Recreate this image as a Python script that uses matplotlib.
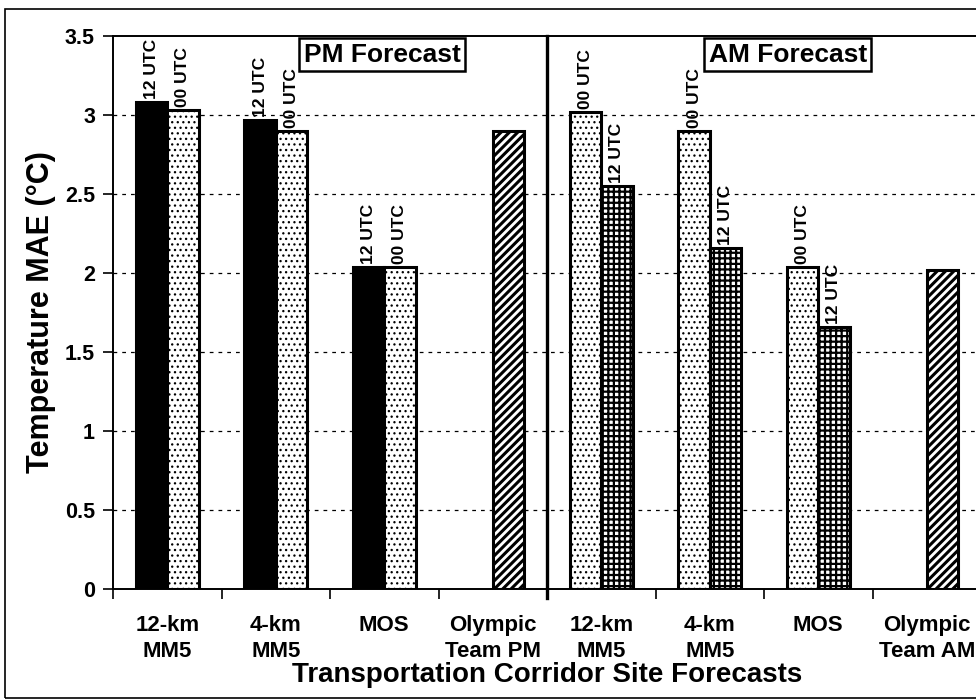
import matplotlib
matplotlib.use("Agg")
import matplotlib.pyplot as plt
import matplotlib.patches as mpatches
import numpy as np

# ---------------- data ----------------
categories = ["12-km\nMM5", "4-km\nMM5", "MOS", "Olympic\nTeam PM",
              "12-km\nMM5", "4-km\nMM5", "MOS", "Olympic\nTeam AM"]
pm_12utc = [3.08, 2.97, 2.04]          # black bars, PM models
pm_00utc = [3.03, 2.90, 2.04]          # dotted bars, PM models
olympic_pm = [2.90]
am_00utc = [3.02, 2.90, 2.04]          # dotted bars, AM models
am_12utc = [2.55, 2.16, 1.66]          # brick bars, AM models
olympic_am = [2.02]
yticks = [0, 0.5, 1, 1.5, 2, 2.5, 3, 3.5]
ytick_labels = ["0", "0.5", "1", "1.5", "2", "2.5", "3", "3.5"]

plt.rcParams['font.family'] = ["Liberation Sans", "DejaVu Sans"]
plt.rcParams['font.weight'] = 'bold'

fig = plt.figure(figsize=(9.76, 7.0), dpi=100)
ax = fig.add_axes([113/976, 1-589/700, (981-113)/976, (589-36)/700])

w = 0.29
off = 0.145
x = np.arange(len(categories))


def hbar(xpos, vals, color, hatch, hlw):
    plt.rcParams['hatch.linewidth'] = hlw
    bars = ax.bar(xpos, vals, w, color=color, hatch=hatch, edgecolor="black",
                  linewidth=2.2, zorder=3)
    for r in bars:
        if hasattr(r, "set_hatch_linewidth"):
            r.set_hatch_linewidth(hlw)
    return bars


# PM section
b1 = hbar(x[:3]-off, pm_12utc, "black", None, 1.0)
b2 = hbar(x[:3]+off, pm_00utc, "white", "...", 0.9)
b3 = hbar(x[3:4]+off, olympic_pm, "white", "////", 2.2)
# AM section
b4 = hbar(x[4:7]-off, am_00utc, "white", "...", 0.9)
b5 = hbar(x[4:7]+off, am_12utc, "white", "+++", 1.6)
b6 = hbar(x[7:8]+off, olympic_am, "white", "////", 2.2)

lab_kw = dict(rotation=90, ha="center", va="bottom", fontsize=12.5, fontweight="bold")
for bars, txt in [(b1, "12 UTC"), (b2, "00 UTC"), (b4, "00 UTC"), (b5, "12 UTC")]:
    for r in bars:
        ax.text(r.get_x()+r.get_width()/2, r.get_height()+0.02, txt, **lab_kw)

ax.set_xlim(-0.5, 7.5)
ax.set_ylim(0, 3.5)
ax.set_yticks(yticks)
ax.set_yticklabels(ytick_labels, fontsize=15.5, fontweight="bold")
ax.set_xticks(np.arange(-0.5, 8.0, 1.0))
ax.set_xticklabels([])
ax.set_xticks(x, minor=True)
ax.set_xticklabels(categories, minor=True, fontsize=16, fontweight="bold", linespacing=1.3)
ax.tick_params(axis="x", which="minor", length=0, pad=19)
ax.tick_params(axis="x", which="major", length=7, width=1.2, direction="out")
ax.tick_params(axis="y", length=7, width=1.2, direction="out", pad=6)

for yv in yticks[1:-1]:
    ax.axhline(yv, color="black", lw=0.9, ls=(0, (3, 4)), zorder=1)

for s in ax.spines.values():
    s.set_linewidth(1.4)

# divider between PM and AM
ax.plot([3.5, 3.5], [-0.06, 3.5], color="black", lw=2.4, clip_on=False, zorder=4)

# box labels
box = dict(boxstyle="square,pad=0.17", facecolor="white", edgecolor="black", linewidth=1.8)
ax.text(1.98, 3.382, "PM Forecast", ha="center", va="center", fontsize=19, fontweight="bold", bbox=box, zorder=5)
ax.text(5.72, 3.382, "AM Forecast", ha="center", va="center", fontsize=19, fontweight="bold", bbox=box, zorder=5)

ax.set_ylabel("Temperature MAE (°C)", fontsize=22, fontweight="bold", labelpad=6)
ax.set_xlabel("Transportation Corridor Site Forecasts", fontsize=20, fontweight="bold", labelpad=0)

# outer figure border
fig.patches.append(mpatches.Rectangle((5/976, 2/700), 1.2, 1-11/700, transform=fig.transFigure,
                                      fill=False, edgecolor="black", linewidth=1.2))

fig.savefig("out.png", dpi=100)
